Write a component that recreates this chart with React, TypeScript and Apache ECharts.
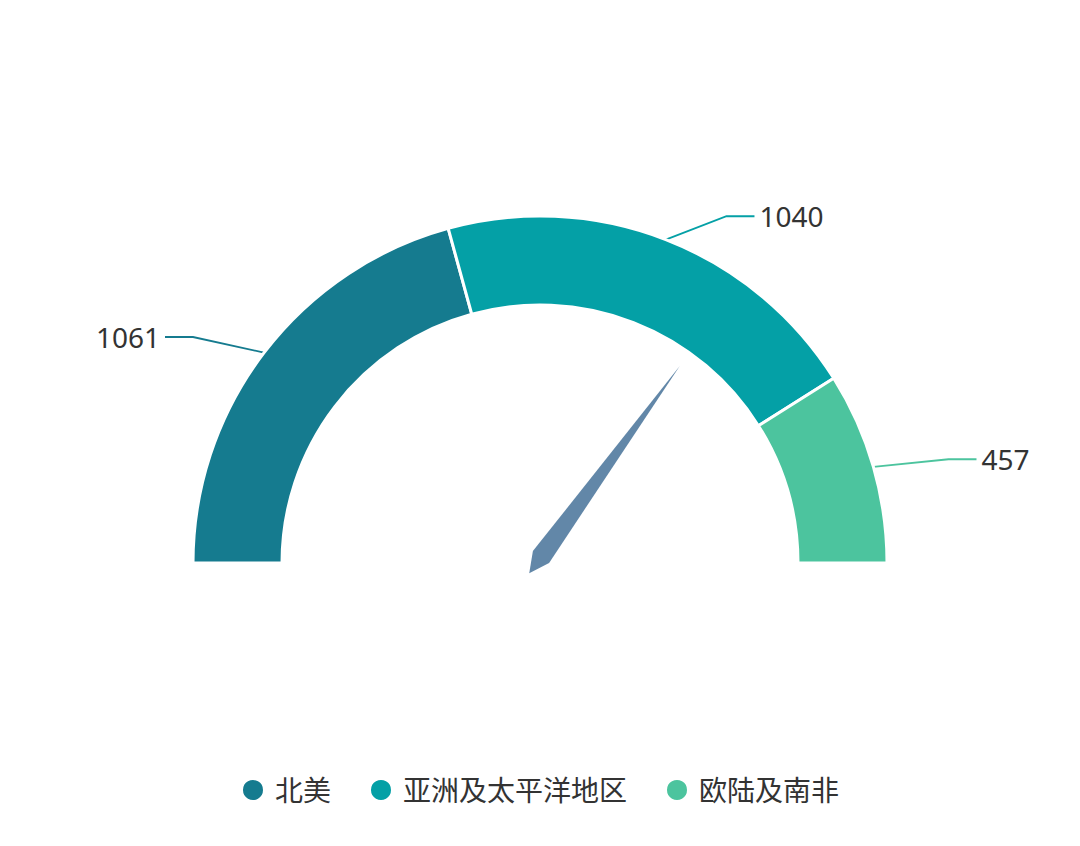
import React, { useEffect, useRef } from "react";
import * as echarts from "echarts";

const categories = ["北美", "亚洲及太平洋地区", "欧陆及南非"];
const values = [1061, 1040, 457];
const colors = ["#157b8f", "#04a0a6", "#4cc49e"];
const pointerValue = [70];

const FONT = '"Noto Sans", "Noto Sans CJK SC", sans-serif';

export default function App() {
  const ref = useRef<HTMLDivElement>(null);
  useEffect(() => {
    const chart = echarts.init(ref.current!, null, { renderer: "svg" });
    const shift = 52;
    const labelGap = 5;
    chart.setOption({
      animation: false,
      color: colors,
      legend: {
        data: categories,
        top: 771,
        left: "center",
        icon: "circle",
        itemWidth: 22,
        itemHeight: 22,
        itemGap: 38,
        textStyle: {
          fontSize: 28,
          color: "#333",
          fontFamily: FONT,
          padding: [0, 0, 0, 6],
        },
      },
      series: [
        {
          type: "pie",
          center: [540, 563],
          radius: [258, 347],
          startAngle: 180,
          endAngle: 0,
          avoidLabelOverlap: false,
          emphasis: { disabled: true },
          itemStyle: { borderColor: "#fff", borderWidth: 3 },
          label: {
            show: true,
            formatter: "{c}",
            fontSize: 28,
            color: "#333",
            fontFamily: FONT,
          },
          labelLine: {
            show: true,
            length: 24,
            length2: 28,
            lineStyle: { width: 1.8 },
          },
          labelLayout: (p: any) => {
            const pts = p.labelLinePoints;
            if (!pts || pts.length < 3) return {};
            const dir = pts[2][0] >= pts[1][0] ? 1 : -1;
            const p1 = [pts[1][0] + dir * shift, pts[1][1] - 1];
            const p2 = [pts[2][0] + dir * shift, pts[2][1] - 1];
            return {
              labelLinePoints: [pts[0], p1, p2],
              x: p2[0] + dir * labelGap,
              y: p2[1],
              align: dir > 0 ? "left" : "right",
              verticalAlign: "middle",
            };
          },
          data: categories.map((n, i) => ({ name: n, value: values[i] })),
        },
        {
          type: "gauge",
          center: [541, 557],
          radius: 236,
          startAngle: 180,
          endAngle: 0,
          min: 0,
          max: 100,
          axisLine: { show: false },
          splitLine: { show: false },
          axisTick: { show: false },
          axisLabel: { show: false },
          anchor: { show: false },
          title: { show: false },
          detail: { show: false },
          pointer: {
            show: true,
            width: 10,
            length: 236,
            itemStyle: { color: "#6287a8" },
          },
          data: pointerValue.map((v) => ({ value: v })),
        },
      ],
    });
    return () => chart.dispose();
  }, []);
  return (
    <div
      ref={ref}
      style={{ position: "absolute", left: 0, top: 0, width: 1080, height: 846, background: "#fff" }}
    />
  );
}
